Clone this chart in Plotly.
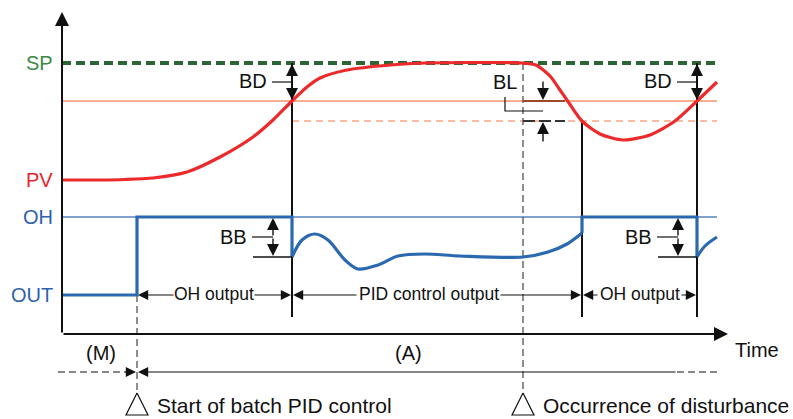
import plotly.graph_objects as go

# ---- levels (diagram units, y grows downward) ----
LEVEL_NAMES = ["SP", "PV", "OH", "OUT"]
LEVEL_Y = [63, 180, 217, 295]
LEVEL_COLORS = ["#3b8a46", "#e8262a", "#2d62ad", "#2d62ad"]
SP_Y, PV0_Y, OH_Y, OUT0_Y = LEVEL_Y
BD_Y = 101          # SP - BD
BL_Y = 121          # SP - BD - BL
BB_Y = 257          # OH - BB
AXIS_Y = 334

# ---- time events ----
T_AXIS = 62
T_START = 137
T_SW1 = 292
T_DIST = 523
T_SW2 = 582
T_SW3 = 697
T_END = 717
T_ARROW = 728

# ---- PV curve ----
PV_T = [62, 100, 125, 153, 187, 220, 253, 273, 292, 307, 320, 347, 390, 425, 522, 536, 550, 560, 569, 582, 600, 623, 650, 675, 697, 717]
PV_Y = [180, 180, 179.5, 178, 172, 157, 137, 120, 101, 87, 78, 70, 65, 63, 63, 65, 76, 90, 103, 121, 134, 140, 135, 121, 101, 82]

# ---- OUT (manipulated value) ----
OUT_STEP1_T = [62, 137, 137, 292, 292]
OUT_STEP1_Y = [295, 295, 217, 217, 257]
OUT_PID_T = [292, 302, 315, 328, 345, 358, 378, 398, 425, 460, 523, 548, 567, 582]
OUT_PID_Y = [257, 240, 234, 240, 260, 269, 265, 256, 254, 256, 257, 252, 244, 233]
OUT_STEP2_T = [582, 582, 697, 697]
OUT_STEP2_Y = [233, 217, 217, 257]
OUT_TAIL_T = [697, 705, 717]
OUT_TAIL_Y = [257, 246, 237]

# ---- text labels ----
SEG_LABELS = ["OH output", "PID control output", "OH output"]
SEG_BOUNDS = [(T_START, T_SW1), (T_SW1, T_SW2), (T_SW2, T_SW3)]
SEG_TEXT_SPAN = [(175, 253), (358, 499), (599, 680)]
MODE_LABELS = ["(M)", "(A)"]
MODE_X = [101, 408]
EVENT_LABELS = ["Start of batch PID control", "Occurrence of disturbance"]
EVENT_T = [T_START, T_DIST]

BLACK = "#111111"
ORANGE = "#f4956a"
ORANGE_D = "#f6a882"
BROWN = "#9a4a24"
GREEN_D = "#2c6533"
BLUE = "#2a69b0"
BLUE_T = "#5680c0"
RED = "#ec2a2c"
GRAY = "#444444"
FONT = "Liberation Sans, Arial, sans-serif"

fig = go.Figure()


def line(xs, ys, color, width, dash="solid", shape="linear", smoothing=None):
    ln = dict(color=color, width=width, dash=dash, shape=shape)
    if smoothing is not None:
        ln["smoothing"] = smoothing
    fig.add_trace(go.Scatter(x=xs, y=ys, mode="lines", line=ln, hoverinfo="skip", showlegend=False))


def arrow(x0, y0, x1, y1, w=1.4, size=1.7, color=BLACK):
    fig.add_annotation(x=x1, y=y1, ax=x0, ay=y0, xref="x", yref="y", axref="x", ayref="y",
                       text="", showarrow=True, arrowhead=2, arrowsize=size, arrowwidth=w,
                       arrowcolor=color, standoff=0, startstandoff=0)


def text(x, y, s, size=20, color=BLACK, xanchor="center"):
    fig.add_annotation(x=x, y=y, xref="x", yref="y", text=s, showarrow=False, xanchor=xanchor,
                       yanchor="middle", font=dict(size=size, color=color, family=FONT))


# reference levels
line([T_AXIS, T_END], [BD_Y, BD_Y], ORANGE, 1.5)
line([T_SW1, T_END], [BL_Y, BL_Y], ORANGE_D, 1.5, dash="7px,5px")
line([T_AXIS, T_END], [OH_Y, OH_Y], BLUE_T, 1.3)
line([T_AXIS, T_END], [SP_Y, SP_Y], GREEN_D, 4, dash="9px,5px")

# vertical switching lines
line([T_SW1, T_SW1], [SP_Y, 317], BLACK, 2)
line([T_SW2, T_SW2], [BL_Y, 317], BLACK, 2)
line([T_SW3, T_SW3], [SP_Y, 317], BLACK, 2)
# dashed event lines
line([T_START, T_START], [OUT0_Y, 392], GRAY, 1.2, dash="7px,4px")
line([T_DIST, T_DIST], [SP_Y, 392], GRAY, 1.2, dash="7px,4px")

# BL markers
line([T_DIST, 565], [BD_Y, BD_Y], BROWN, 2)
line([T_DIST, 565], [BL_Y, BL_Y], "#333333", 2, dash="12px,4px")

# curves
line(PV_T, PV_Y, RED, 3.2, shape="spline", smoothing=0.7)
line(OUT_STEP1_T, OUT_STEP1_Y, BLUE, 3.2)
line(OUT_PID_T, OUT_PID_Y, BLUE, 3.2, shape="spline", smoothing=0.9)
line(OUT_STEP2_T, OUT_STEP2_Y, BLUE, 3.2)
line(OUT_TAIL_T, OUT_TAIL_Y, BLUE, 3.2, shape="spline")

# BB helper lines
line([253, T_SW1], [BB_Y, BB_Y], BLACK, 1.3)
line([658, T_SW3], [BB_Y, BB_Y], BLACK, 1.3)

# axes
arrow(T_AXIS, AXIS_Y, T_AXIS, 12, w=2, size=1.4)
arrow(T_AXIS, AXIS_Y, T_ARROW, AXIS_Y, w=2, size=1.4)

# level labels
for name, yv, col in zip(LEVEL_NAMES, LEVEL_Y, LEVEL_COLORS):
    text(55, yv, name, size=20, color=col, xanchor="right")

# BD
for xv, lx in [(T_SW1, 253), (T_SW3, 658)]:
    arrow(xv, (SP_Y + BD_Y) / 2, xv, SP_Y + 1)
    arrow(xv, (SP_Y + BD_Y) / 2, xv, BD_Y - 1)
    line([lx + 19, xv], [82, 82], BLACK, 1.2)
    text(lx, 81, "BD")

# BB
for xv, lx in [(273, 233), (678, 638)]:
    arrow(xv, (OH_Y + BB_Y) / 2, xv, OH_Y + 1)
    arrow(xv, (OH_Y + BB_Y) / 2, xv, BB_Y - 1)
    line([lx + 19, xv], [237, 237], BLACK, 1.2)
    text(lx, 237, "BB")

# BL
arrow(543, 80, 543, BD_Y - 1)
arrow(543, 143, 543, BL_Y + 1)
line([505, 505, 543], [97, 111, 111], BLACK, 1.2)
text(505, 82, "BL")

# output segment labels with arrows
for lab, (a, b), (ta, tb) in zip(SEG_LABELS, SEG_BOUNDS, SEG_TEXT_SPAN):
    arrow(ta, OUT0_Y, a + 1, OUT0_Y, w=1.2, size=1.7)
    arrow(tb, OUT0_Y, b - 1, OUT0_Y, w=1.2, size=1.7)
    text((ta + tb) / 2, OUT0_Y - 1, lab, size=17.5)

# mode line
line([58, 126], [372, 372], BLACK, 1.2, dash="7px,4px")
arrow(124, 372, T_START - 1, 372, w=1.2, size=1.7)
arrow(677, 372, T_START + 1, 372, w=1.2, size=1.7)
line([677, T_END], [372, 372], BLACK, 1.2, dash="7px,4px")
for lab, xv in zip(MODE_LABELS, MODE_X):
    text(xv, 353, lab, size=20)
text(733, 350, "Time", size=20, xanchor="left")

# event triangles
for lab, tv in zip(EVENT_LABELS, EVENT_T):
    fig.add_trace(go.Scatter(x=[tv, tv - 11, tv + 11, tv], y=[393, 415, 415, 393], mode="lines",
                             line=dict(color=BLACK, width=1.2), hoverinfo="skip", showlegend=False))
    text(tv + 18, 405, lab, size=21, xanchor="left")

fig.update_layout(
    width=793, height=419, margin=dict(l=0, r=0, t=0, b=0),
    paper_bgcolor="white", plot_bgcolor="white",
    xaxis=dict(range=[0, 793], visible=False, fixedrange=True),
    yaxis=dict(range=[419, 0], visible=False, fixedrange=True),
)
fig.write_html("out.html", config={"displayModeBar": False},
               post_script="document.body.style.margin='0';document.body.style.overflow='hidden';")
